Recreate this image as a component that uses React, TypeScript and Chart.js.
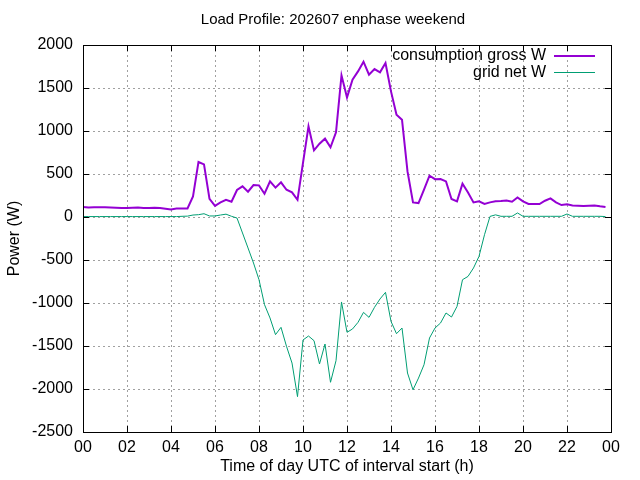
import React, { useEffect, useRef } from 'react';
import { Chart, registerables } from 'chart.js';
Chart.register(...registerables);

// 15-minute load profile, one value per interval start (00:00 .. 23:45)
const consumptionGross = [
  115, 110, 112, 112, 112, 110, 108, 105, 105, 108, 110, 106, 104, 108, 104, 96, 88, 98, 100, 100,
  240, 640, 612, 210, 130, 170, 200, 178, 314, 356, 294, 372, 368, 271, 414, 341, 403, 317, 286, 200,
  630, 1054, 775, 852, 911, 810, 984, 1647, 1390, 1596, 1693, 1806, 1655, 1720, 1682, 1790,
  1461, 1189, 1131, 530, 170, 162, 317, 480, 440, 441, 414, 209, 182, 387, 286, 170,
  182, 151, 170, 182, 185, 193, 178, 228, 182, 151, 151, 151, 189, 217, 170, 139,
  147, 135, 131, 127, 131, 135, 124, 116,
];

const gridNet = [
  5, 5, 5, 5, 5, 5, 5, 5, 5, 5, 5, 5, 5, 5, 5, 5, 5, 5, 8, 10,
  23, 27, 38, 12, 12, 23, 33, 8, -12, -186, -360, -535, -729, -1019, -1174, -1368, -1283, -1504, -1698, -2089,
  -1430, -1384, -1438, -1709, -1477, -1922, -1671, -988, -1341, -1302, -1225, -1109, -1167, -1050, -953, -876,
  -1214, -1357, -1291, -1814, -2009, -1873, -1718, -1407, -1291, -1233, -1116, -1163, -1040, -729, -691, -593,
  -458, -206, 7, 25, 8, 8, 8, 47, 8, 8, 8, 8, 8, 8, 8, 8,
  35, 8, 8, 8, 8, 8, 8, 5,
];

const hourTicks = ['00', '02', '04', '06', '08', '10', '12', '14', '16', '18', '20', '22', '00'];

const FONT = '"Liberation Sans", Arial, sans-serif';
const FONT_SIZE = 16;

const framePlugin = {
  id: 'gnuplotFrame',
  afterDraw(chart: any) {
    const { ctx, chartArea: a, scales } = chart;
    ctx.save();
    ctx.strokeStyle = '#000';
    ctx.lineWidth = 1;
    ctx.setLineDash([]);
    ctx.strokeRect(Math.round(a.left) + 0.5, Math.round(a.top) + 0.5, Math.round(a.right - a.left), Math.round(a.bottom - a.top));
    const tl = 6;
    ctx.beginPath();
    scales.x.ticks.forEach((t: any) => {
      const x = Math.round(scales.x.getPixelForValue(t.value)) + 0.5;
      ctx.moveTo(x, a.bottom); ctx.lineTo(x, a.bottom - tl);
      ctx.moveTo(x, a.top); ctx.lineTo(x, a.top + tl);
    });
    scales.y.ticks.forEach((t: any) => {
      const y = Math.round(scales.y.getPixelForValue(t.value)) + 0.5;
      ctx.moveTo(a.left, y); ctx.lineTo(a.left + tl, y);
      ctx.moveTo(a.right, y); ctx.lineTo(a.right - tl, y);
    });
    ctx.stroke();

    // titles
    ctx.fillStyle = '#000';
    ctx.textAlign = 'center';
    ctx.textBaseline = 'middle';
    ctx.font = `15px ${FONT}`;
    ctx.fillText('Load Profile: 202607 enphase weekend', 333, 20);
    ctx.font = `${FONT_SIZE}px ${FONT}`;
    ctx.fillText('Time of day UTC of interval start (h)', (a.left + a.right) / 2, 467);
    ctx.save();
    ctx.translate(15, (a.top + a.bottom) / 2);
    ctx.rotate(-Math.PI / 2);
    ctx.fillText('Power (W)', 0, 0);
    ctx.restore();

    // key, gnuplot style: text right-aligned, sample line after it
    ctx.textAlign = 'right';
    chart.data.datasets.forEach((ds: any, i: number) => {
      const y = 56 + i * 16.5;
      ctx.fillStyle = '#000';
      ctx.fillText(ds.label, 546, y);
      ctx.strokeStyle = ds.borderColor;
      ctx.lineWidth = ds.borderWidth;
      ctx.beginPath();
      ctx.moveTo(554, y);
      ctx.lineTo(595, y);
      ctx.stroke();
    });
    ctx.restore();
  },
};

const App: React.FC = () => {
  const canvasRef = useRef<HTMLCanvasElement>(null);

  useEffect(() => {
    if (!canvasRef.current) return;
    const hours = consumptionGross.map((_, i) => i / 4);
    const chart = new Chart(canvasRef.current, {
      type: 'line',
      data: {
        datasets: [
          {
            label: 'consumption gross W',
            data: hours.map((h, i) => ({ x: h, y: consumptionGross[i] })),
            borderColor: '#9400d3',
            borderWidth: 2,
            pointRadius: 0,
            tension: 0,
          },
          {
            label: 'grid net W',
            data: hours.map((h, i) => ({ x: h, y: gridNet[i] })),
            borderColor: '#009e73',
            borderWidth: 1,
            pointRadius: 0,
            tension: 0,
          },
        ],
      },
      options: {
        animation: false,
        responsive: true,
        maintainAspectRatio: false,
        layout: { padding: { top: 45, right: 29, left: 0, bottom: 0 } },
        plugins: { legend: { display: false }, title: { display: false }, tooltip: { enabled: false } },
        scales: {
          x: {
            type: 'linear',
            min: 0,
            max: 24,
            afterBuildTicks: (s: any) => {
              s.ticks = hourTicks.map((_, i) => ({ value: i * 2 }));
            },
            afterFit: (s: any) => { s.height = 48; },
            border: { display: false, dash: [2, 3] },
            grid: { color: '#a0a0a0', lineWidth: 1, drawTicks: false },
            ticks: {
              padding: 6,
              color: '#000',
              font: { family: FONT, size: FONT_SIZE },
              maxRotation: 0,
              callback: (_v: any, i: number) => hourTicks[i],
            },
          },
          y: {
            min: -2500,
            max: 2000,
            afterFit: (s: any) => { s.width = 83; },
            border: { display: false, dash: [2, 3] },
            grid: { color: '#a0a0a0', lineWidth: 1, drawTicks: false },
            ticks: {
              stepSize: 500,
              padding: 10,
              color: '#000',
              font: { family: FONT, size: FONT_SIZE },
              callback: (v: any) => String(v),
            },
          },
        },
      },
      plugins: [framePlugin],
    });
    return () => chart.destroy();
  }, []);

  return (
    <div style={{ position: 'absolute', left: 0, top: 0, width: 640, height: 480, background: '#fff' }}>
      <canvas ref={canvasRef}></canvas>
    </div>
  );
};

export default App;
